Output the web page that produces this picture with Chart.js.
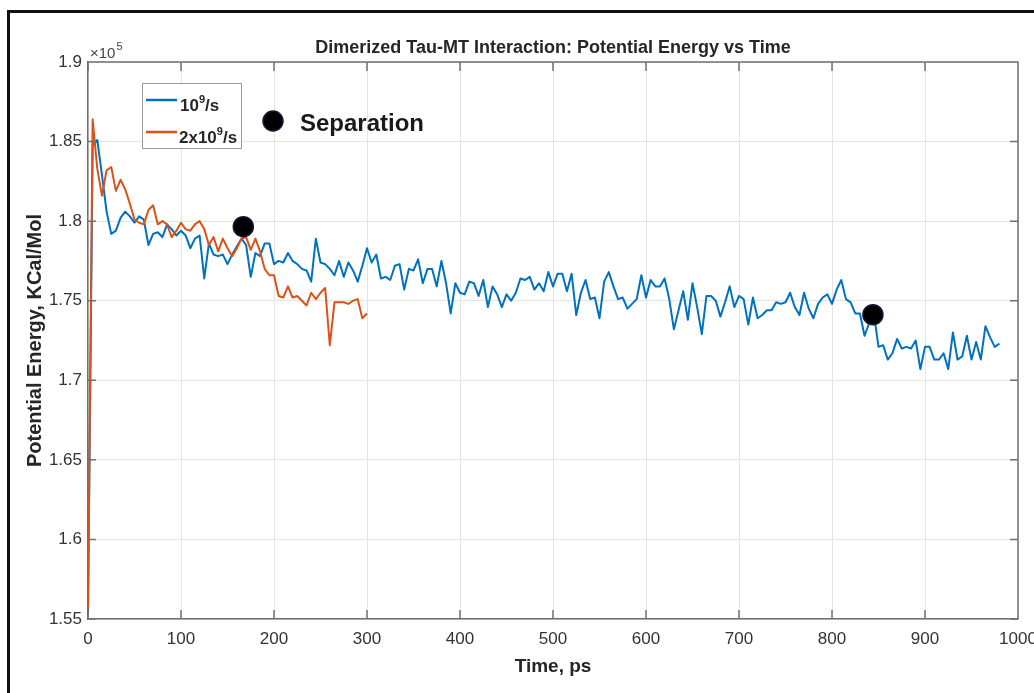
<!DOCTYPE html>
<html>
<head>
<meta charset="utf-8">
<script src="https://cdn.jsdelivr.net/npm/chart.js@4"></script>
<style>
  html, body { margin: 0; padding: 0; background: #fff; overflow: hidden; }
  #wrap { position: relative; width: 1034px; height: 693px; }
  #frame { position: absolute; left: 7px; top: 10px; width: 1100px; height: 800px; border: 3px solid #111; pointer-events: none; }
  canvas { position: absolute; left: 0; top: 0; }
</style>
</head>
<body>
<div id="wrap">
  <canvas id="energy" width="1034" height="693"></canvas>
  <div id="frame"></div>
</div>
<script>
// sampling interval of both runs, ps
const SAMPLE_PS = 5;

// potential energy, x 1e5 KCal/Mol, one value every SAMPLE_PS from t = 0
const slowRate = [
  1.553, 1.848, 1.851, 1.829, 1.806, 1.792, 1.794, 1.802, 1.806, 1.803,
  1.799, 1.803, 1.801, 1.785, 1.792, 1.793, 1.790, 1.798, 1.795, 1.791,
  1.794, 1.791, 1.783, 1.789, 1.791, 1.764, 1.786, 1.779, 1.778, 1.779,
  1.773, 1.779, 1.784, 1.789,
  1.785, 1.765, 1.780, 1.778, 1.786, 1.786, 1.773, 1.775, 1.774, 1.780,
  1.775, 1.773, 1.770, 1.769, 1.762, 1.789, 1.774, 1.773, 1.770, 1.766,
  1.775, 1.765, 1.774, 1.769, 1.762, 1.772, 1.783, 1.774, 1.779, 1.764,
  1.765, 1.763, 1.772, 1.773,
  1.757, 1.770, 1.769, 1.776, 1.761, 1.770, 1.770, 1.759, 1.775, 1.761,
  1.742, 1.761, 1.755, 1.754, 1.762, 1.761, 1.753, 1.763, 1.746, 1.759,
  1.754, 1.746, 1.754, 1.750, 1.755, 1.764, 1.763, 1.765, 1.757, 1.761,
  1.756, 1.768, 1.759,
  1.767, 1.767, 1.756, 1.767, 1.741, 1.755, 1.763, 1.751, 1.752, 1.739,
  1.762, 1.768, 1.759, 1.751, 1.752, 1.745, 1.748, 1.751, 1.766, 1.752,
  1.763, 1.759, 1.759, 1.764, 1.751, 1.732, 1.744, 1.756, 1.738, 1.761,
  1.746, 1.729, 1.753,
  1.753, 1.750, 1.740, 1.749, 1.759, 1.746, 1.753, 1.751, 1.735, 1.752,
  1.739, 1.741, 1.744, 1.744, 1.749, 1.748, 1.749, 1.755, 1.746, 1.741,
  1.755, 1.745, 1.739, 1.748, 1.752, 1.754, 1.748, 1.757, 1.763, 1.751,
  1.749, 1.742, 1.742, 1.728, 1.736, 1.742, 1.721, 1.722, 1.713, 1.717,
  1.726, 1.720, 1.721, 1.720, 1.725, 1.707, 1.721, 1.721, 1.713, 1.713,
  1.717, 1.707, 1.730, 1.713, 1.715, 1.728, 1.713, 1.724, 1.713, 1.734,
  1.727, 1.721, 1.723
];

const fastRate = [
  1.556, 1.864, 1.833, 1.816, 1.832, 1.834, 1.819, 1.826, 1.820, 1.811,
  1.801, 1.799, 1.798, 1.807, 1.810, 1.798, 1.800, 1.798, 1.790, 1.794,
  1.799, 1.795, 1.794, 1.798, 1.800, 1.795, 1.785, 1.790, 1.781, 1.789,
  1.783, 1.778, 1.783, 1.789,
  1.790, 1.782, 1.789, 1.781, 1.770, 1.766, 1.766, 1.753, 1.752, 1.759,
  1.752, 1.753, 1.750, 1.747, 1.755, 1.751, 1.755, 1.758, 1.722, 1.749,
  1.749, 1.749, 1.748, 1.750, 1.751, 1.739, 1.742
];

// separation events
const separationTime = [167, 844];
const separationEnergy = [1.7965, 1.7412];

const xTicks = [0, 100, 200, 300, 400, 500, 600, 700, 800, 900, 1000];
const yTicks = [1.55, 1.6, 1.65, 1.7, 1.75, 1.8, 1.85, 1.9];

const BLUE = '#0072BD';
const ORANGE = '#D95319';
const FONT = "'Liberation Sans', Arial, Helvetica, sans-serif";
const INK = '#262626';

const toPoints = arr => arr.map((v, i) => ({ x: i * SAMPLE_PS, y: v }));

// text runs with superscripts, e.g. 10^9/s
function drawRich(ctx, parts, x, y, size) {
  let cx = x;
  parts.forEach(p => {
    const s = p.sup ? Math.round(size * 0.65) : size;
    ctx.font = 'bold ' + s + 'px ' + FONT;
    ctx.fillText(p.t, cx, p.sup ? y - size * 0.45 : y);
    cx += ctx.measureText(p.t).width;
  });
}

const matlabDecor = {
  id: 'matlabDecor',
  afterDraw(chart) {
    const { ctx, chartArea: a, scales } = chart;
    ctx.save();

    // box lines on top and right, ticks pointing inwards
    ctx.strokeStyle = '#707070';
    ctx.lineWidth = 1.5;
    ctx.beginPath();
    ctx.moveTo(a.left, a.top); ctx.lineTo(a.right, a.top); ctx.lineTo(a.right, a.bottom);
    xTicks.forEach(v => {
      const px = scales.x.getPixelForValue(v);
      ctx.moveTo(px, a.bottom); ctx.lineTo(px, a.bottom - 9);
      ctx.moveTo(px, a.top); ctx.lineTo(px, a.top + 9);
    });
    yTicks.forEach(v => {
      const py = scales.y.getPixelForValue(v);
      ctx.moveTo(a.left, py); ctx.lineTo(a.left + 8, py);
      ctx.moveTo(a.right, py); ctx.lineTo(a.right - 8, py);
    });
    ctx.stroke();

    // title
    ctx.fillStyle = INK;
    ctx.textAlign = 'center';
    ctx.textBaseline = 'alphabetic';
    ctx.font = 'bold 18px ' + FONT;
    ctx.fillText('Dimerized Tau-MT Interaction: Potential Energy vs Time', (a.left + a.right) / 2, 53);

    // axis exponent
    ctx.textAlign = 'left';
    ctx.fillStyle = '#444';
    ctx.font = '15px ' + FONT;
    ctx.fillText('\u00d710', a.left + 2, 58);
    const w = ctx.measureText('\u00d710').width;
    ctx.font = '11px ' + FONT;
    ctx.fillText('5', a.left + 2 + w + 1, 50);

    // legend
    const lx = a.left + 54, ly = a.top + 21;
    ctx.fillStyle = '#fff';
    ctx.fillRect(lx, ly, 99, 65);
    ctx.strokeStyle = '#9a9a9a';
    ctx.lineWidth = 1;
    ctx.strokeRect(lx + 0.5, ly + 0.5, 99, 65);
    ctx.lineWidth = 2.5;
    ctx.strokeStyle = BLUE;
    ctx.beginPath(); ctx.moveTo(lx + 4, ly + 17); ctx.lineTo(lx + 35, ly + 17); ctx.stroke();
    ctx.strokeStyle = ORANGE;
    ctx.beginPath(); ctx.moveTo(lx + 4, ly + 49); ctx.lineTo(lx + 35, ly + 49); ctx.stroke();
    ctx.fillStyle = INK;
    drawRich(ctx, [{ t: '10' }, { t: '9', sup: true }, { t: '/s' }], lx + 38, ly + 28, 17);
    drawRich(ctx, [{ t: '2x10' }, { t: '9', sup: true }, { t: '/s' }], lx + 37, ly + 60, 17);

    // separation key
    ctx.fillStyle = '#000';
    ctx.strokeStyle = '#101838';
    ctx.lineWidth = 1.5;
    ctx.beginPath(); ctx.arc(a.left + 185, a.top + 59, 10, 0, Math.PI * 2); ctx.fill(); ctx.stroke();
    ctx.fillStyle = '#1a1a1a';
    ctx.font = 'bold 24px ' + FONT;
    ctx.fillText('Separation', a.left + 212, a.top + 69);

    ctx.restore();
  }
};

new Chart(document.getElementById('energy'), {
  type: 'line',
  data: {
    datasets: [
      {
        label: 'Separation',
        type: 'scatter',
        data: separationTime.map((t, i) => ({ x: t, y: separationEnergy[i] })),
        pointRadius: 10,
        pointBackgroundColor: '#000',
        pointBorderColor: '#101838',
        pointBorderWidth: 1.5,
        showLine: false
      },
      {
        label: '2x10^9/s',
        data: toPoints(fastRate),
        borderColor: ORANGE,
        borderWidth: 2,
        borderJoinStyle: 'round',
        pointRadius: 0,
        tension: 0
      },
      {
        label: '10^9/s',
        data: toPoints(slowRate),
        borderColor: BLUE,
        borderWidth: 2,
        borderJoinStyle: 'round',
        pointRadius: 0,
        tension: 0
      }
    ]
  },
  options: {
    responsive: false,
    animation: false,
    devicePixelRatio: 1,
    layout: { autoPadding: false, padding: { left: 10, right: 16, top: 62, bottom: 10 } },
    plugins: {
      legend: { display: false },
      title: { display: false },
      tooltip: { enabled: false }
    },
    scales: {
      x: {
        type: 'linear',
        min: 0,
        max: 1000,
        afterBuildTicks: s => { s.ticks = xTicks.map(v => ({ value: v })); },
        afterFit: s => { s.height = 64; s.paddingLeft = 0; s.paddingRight = 0; },
        ticks: {
          autoSkip: false,
          maxRotation: 0,
          padding: 10,
          color: '#333',
          font: { family: FONT, size: 17 },
          callback: v => String(v)
        },
        grid: { color: '#e4e4e4', drawTicks: false },
        border: { color: '#707070', width: 1.5 },
        title: {
          display: true,
          text: 'Time, ps',
          color: INK,
          font: { family: FONT, size: 19, weight: 'bold' },
          padding: { top: 0, bottom: 5 }
        }
      },
      y: {
        type: 'linear',
        min: 1.55,
        max: 1.9,
        afterBuildTicks: s => { s.ticks = yTicks.map(v => ({ value: v })); },
        afterFit: s => { s.width = 78; s.paddingTop = 0; s.paddingBottom = 0; },
        ticks: {
          autoSkip: false,
          padding: 6,
          color: '#333',
          font: { family: FONT, size: 17 },
          callback: v => String(+v.toFixed(2))
        },
        grid: { color: '#e4e4e4', drawTicks: false },
        border: { color: '#707070', width: 1.5 },
        title: {
          display: true,
          text: 'Potential Energy, KCal/Mol',
          color: INK,
          font: { family: FONT, size: 20, weight: 'bold' },
          padding: { top: 13, bottom: 0 }
        }
      }
    }
  },
  plugins: [matlabDecor]
});
</script>
</body>
</html>
